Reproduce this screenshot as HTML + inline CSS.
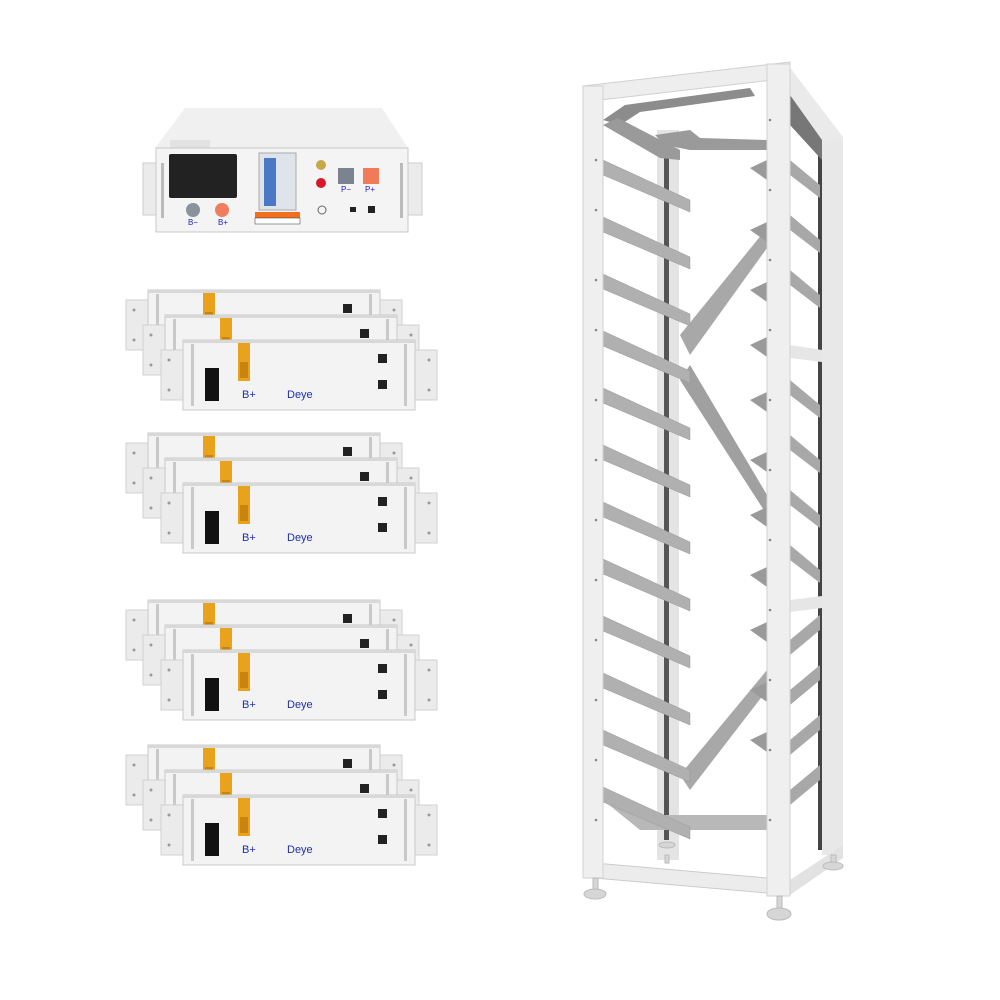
<!DOCTYPE html>
<html><head><meta charset="utf-8"><style>
html,body{margin:0;padding:0;background:#fff;}
svg{display:block;font-family:"Liberation Sans",sans-serif;}
</style></head><body>
<svg width="1000" height="1000" viewBox="0 0 1000 1000" xmlns="http://www.w3.org/2000/svg">
<defs>
<g id="mod">
  <rect x="-22" y="10" width="24" height="50" fill="#ebebeb" stroke="#d0d0d0"/>
  <rect x="230" y="10" width="24" height="50" fill="#ebebeb" stroke="#d0d0d0"/>
  <circle cx="-14" cy="20" r="1.5" fill="#999"/><circle cx="-14" cy="50" r="1.5" fill="#999"/>
  <circle cx="246" cy="20" r="1.5" fill="#999"/><circle cx="246" cy="50" r="1.5" fill="#999"/>
  <rect x="0" y="0" width="232" height="70" fill="#f3f3f3" stroke="#c8c8c8"/>
  <rect x="0" y="0" width="232" height="3" fill="#d8d8d8"/>
  <rect x="8" y="4" width="3" height="62" fill="#c9c9c9"/>
  <rect x="221" y="4" width="3" height="62" fill="#c9c9c9"/>
  <rect x="55" y="3" width="12" height="38" fill="#e8a21c"/>
  <rect x="57" y="22" width="8" height="16" fill="#c98410"/>
  <rect x="195" y="14" width="9" height="9" fill="#222"/>
</g>
</defs>

<!-- Controller -->
<polygon points="185,108 382,108 408,148 155,148" fill="#f0f0f0"/>
<rect x="170" y="140" width="40" height="8" fill="#e2e2e2"/>
<rect x="143" y="163" width="16" height="52" fill="#ebebeb" stroke="#ccc"/>
<rect x="406" y="163" width="16" height="52" fill="#ebebeb" stroke="#ccc"/>
<rect x="156" y="148" width="252" height="84" fill="#f4f4f4" stroke="#c8c8c8"/>
<rect x="161" y="163" width="3" height="55" fill="#bbb"/>
<rect x="400" y="163" width="3" height="55" fill="#bbb"/>
<rect x="169" y="154" width="68" height="44" fill="#222" rx="2"/>
<rect x="259" y="153" width="37" height="57" fill="#dfe3ea" stroke="#aaa"/>
<rect x="264" y="158" width="12" height="48" fill="#4a78c4"/>
<circle cx="193" cy="210" r="7" fill="#8a929c"/>
<circle cx="222" cy="210" r="7" fill="#ef7d5e"/>
<text x="188" y="225" font-size="8" fill="#22c">B−</text>
<text x="218" y="225" font-size="8" fill="#22c">B+</text>
<rect x="255" y="212" width="45" height="6" fill="#f07020"/>
<rect x="255" y="218" width="45" height="6" fill="#fff" stroke="#333" stroke-width=".5"/>
<circle cx="321" cy="165" r="5" fill="#c9a84a"/>
<circle cx="321" cy="183" r="5" fill="#d8182a"/>
<circle cx="322" cy="210" r="4" fill="none" stroke="#666"/>
<rect x="338" y="168" width="16" height="16" fill="#7a838f"/>
<rect x="363" y="168" width="16" height="16" fill="#f07a5a"/>
<text x="341" y="192" font-size="8" fill="#22c">P−</text>
<text x="365" y="192" font-size="8" fill="#22c">P+</text>
<rect x="350" y="207" width="6" height="5" fill="#222"/>
<rect x="368" y="206" width="7" height="7" fill="#222"/>

<!-- Battery groups -->
<use href="#mod" x="148" y="290"/><use href="#mod" x="165" y="315"/><use href="#mod" x="183" y="340"/>
<use href="#mod" x="148" y="433"/><use href="#mod" x="165" y="458"/><use href="#mod" x="183" y="483"/>
<use href="#mod" x="148" y="600"/><use href="#mod" x="165" y="625"/><use href="#mod" x="183" y="650"/>
<use href="#mod" x="148" y="745"/><use href="#mod" x="165" y="770"/><use href="#mod" x="183" y="795"/>
<g fill="#1e2fb0" font-size="11">
<g transform="translate(183,340)"><rect x="22" y="28" width="14" height="33" fill="#111"/><rect x="195" y="40" width="9" height="9" fill="#222"/><text x="59" y="58">B+</text><text x="104" y="58">Deye</text></g>
<g transform="translate(183,483)"><rect x="22" y="28" width="14" height="33" fill="#111"/><rect x="195" y="40" width="9" height="9" fill="#222"/><text x="59" y="58">B+</text><text x="104" y="58">Deye</text></g>
<g transform="translate(183,650)"><rect x="22" y="28" width="14" height="33" fill="#111"/><rect x="195" y="40" width="9" height="9" fill="#222"/><text x="59" y="58">B+</text><text x="104" y="58">Deye</text></g>
<g transform="translate(183,795)"><rect x="22" y="28" width="14" height="33" fill="#111"/><rect x="195" y="40" width="9" height="9" fill="#222"/><text x="59" y="58">B+</text><text x="104" y="58">Deye</text></g>
</g>

<!-- Rack -->
<g>
<rect x="657" y="130" width="22" height="730" fill="#e4e4e4"/>
<rect x="664" y="140" width="5" height="700" fill="#555"/>
<rect x="822" y="137" width="21" height="718" fill="#e8e8e8"/>
<rect x="818" y="150" width="4" height="700" fill="#444"/>
<!-- top frame: thin beams -->
<polygon points="603,120 625,105 750,88 755,96 640,112 620,125" fill="#8c8c8c"/>
<polygon points="603,125 618,118 680,150 680,160 660,158" fill="#9a9a9a"/>
<polygon points="655,135 690,130 700,138 767,140 767,150 690,150 665,145" fill="#9a9a9a"/>
<polygon points="788,65 843,137 822,145 790,95" fill="#eaeaea"/>
<polygon points="790,95 822,140 822,160 790,125" fill="#777"/>
<!-- diagonals -->
<polygon points="680,335 690,355 767,248 767,228" fill="#a8a8a8"/>
<polygon points="680,380 690,365 767,495 767,515" fill="#a0a0a0"/>
<polygon points="680,775 690,790 767,690 767,670" fill="#a8a8a8"/>
<polygon points="603,800 640,830 767,830 767,815 640,815" fill="#b8b8b8"/>
<!-- left shelves -->
<g fill="#b0b0b0" stroke="#999" stroke-width="0.5">
<polygon points="603,160 690,200 690,212 603,175"/>
<polygon points="603,217 690,257 690,269 603,232"/>
<polygon points="603,274 690,314 690,326 603,289"/>
<polygon points="603,331 690,371 690,383 603,346"/>
<polygon points="603,388 690,428 690,440 603,403"/>
<polygon points="603,445 690,485 690,497 603,460"/>
<polygon points="603,502 690,542 690,554 603,517"/>
<polygon points="603,559 690,599 690,611 603,574"/>
<polygon points="603,616 690,656 690,668 603,631"/>
<polygon points="603,673 690,713 690,725 603,688"/>
<polygon points="603,730 690,770 690,782 603,745"/>
<polygon points="603,787 690,827 690,839 603,802"/>
</g>
<g fill="#a8a8a8">
<polygon points="790,160 820,185 820,198 790,175"/>
<polygon points="790,215 820,240 820,253 790,230"/>
<polygon points="790,270 820,295 820,308 790,285"/>
<polygon points="790,380 820,405 820,418 790,395"/>
<polygon points="790,435 820,460 820,473 790,450"/>
<polygon points="790,490 820,515 820,528 790,505"/>
<polygon points="790,545 820,570 820,583 790,560"/>
<polygon points="790,640 820,615 820,630 790,655"/>
<polygon points="790,690 820,665 820,680 790,705"/>
<polygon points="790,740 820,715 820,730 790,755"/>
<polygon points="790,790 820,765 820,780 790,805"/>
</g>
<g fill="#9a9a9a">
<polygon points="750,168 767,160 767,180"/><polygon points="750,230 767,222 767,242"/>
<polygon points="750,290 767,282 767,302"/><polygon points="750,345 767,337 767,357"/>
<polygon points="750,400 767,392 767,412"/><polygon points="750,460 767,452 767,472"/>
<polygon points="750,515 767,507 767,527"/><polygon points="750,575 767,567 767,587"/>
<polygon points="750,630 767,622 767,642"/><polygon points="750,690 767,682 767,702"/>
<polygon points="750,740 767,732 767,752"/>
</g>
<polygon points="790,345 822,350 822,362 790,358" fill="#e6e6e6"/>
<polygon points="790,600 822,596 822,608 790,612" fill="#e6e6e6"/>
<polygon points="583,862 790,880 790,895 583,877" fill="#ececec" stroke="#ccc"/>
<polygon points="790,880 843,845 843,858 790,895" fill="#e2e2e2"/>
<polygon points="583,86 790,62 790,78 583,102" fill="#eeeeee" stroke="#d0d0d0"/>
<rect x="583" y="86" width="20" height="792" fill="#efefef" stroke="#d2d2d2"/>
<rect x="767" y="64" width="23" height="832" fill="#efefef" stroke="#d2d2d2"/>
<g fill="#888">
<circle cx="596" cy="160" r="1.3"/><circle cx="596" cy="210" r="1.3"/><circle cx="596" cy="280" r="1.3"/><circle cx="596" cy="330" r="1.3"/><circle cx="596" cy="400" r="1.3"/><circle cx="596" cy="460" r="1.3"/><circle cx="596" cy="520" r="1.3"/><circle cx="596" cy="580" r="1.3"/><circle cx="596" cy="640" r="1.3"/><circle cx="596" cy="700" r="1.3"/><circle cx="596" cy="760" r="1.3"/><circle cx="596" cy="820" r="1.3"/>
<circle cx="770" cy="120" r="1.3"/><circle cx="770" cy="190" r="1.3"/><circle cx="770" cy="260" r="1.3"/><circle cx="770" cy="330" r="1.3"/><circle cx="770" cy="400" r="1.3"/><circle cx="770" cy="470" r="1.3"/><circle cx="770" cy="540" r="1.3"/><circle cx="770" cy="610" r="1.3"/><circle cx="770" cy="680" r="1.3"/><circle cx="770" cy="750" r="1.3"/><circle cx="770" cy="820" r="1.3"/>
</g>
<g fill="#d6d6d6" stroke="#bbb">
<rect x="593" y="878" width="5" height="14"/><ellipse cx="595" cy="894" rx="11" ry="5"/>
<rect x="777" y="896" width="5" height="14"/><ellipse cx="779" cy="914" rx="12" ry="6"/>
<rect x="831" y="855" width="5" height="10"/><ellipse cx="833" cy="866" rx="10" ry="4"/>
<rect x="665" y="855" width="4" height="8"/><ellipse cx="667" cy="845" rx="8" ry="3"/>
</g>
</g>
</svg>
</body></html>
